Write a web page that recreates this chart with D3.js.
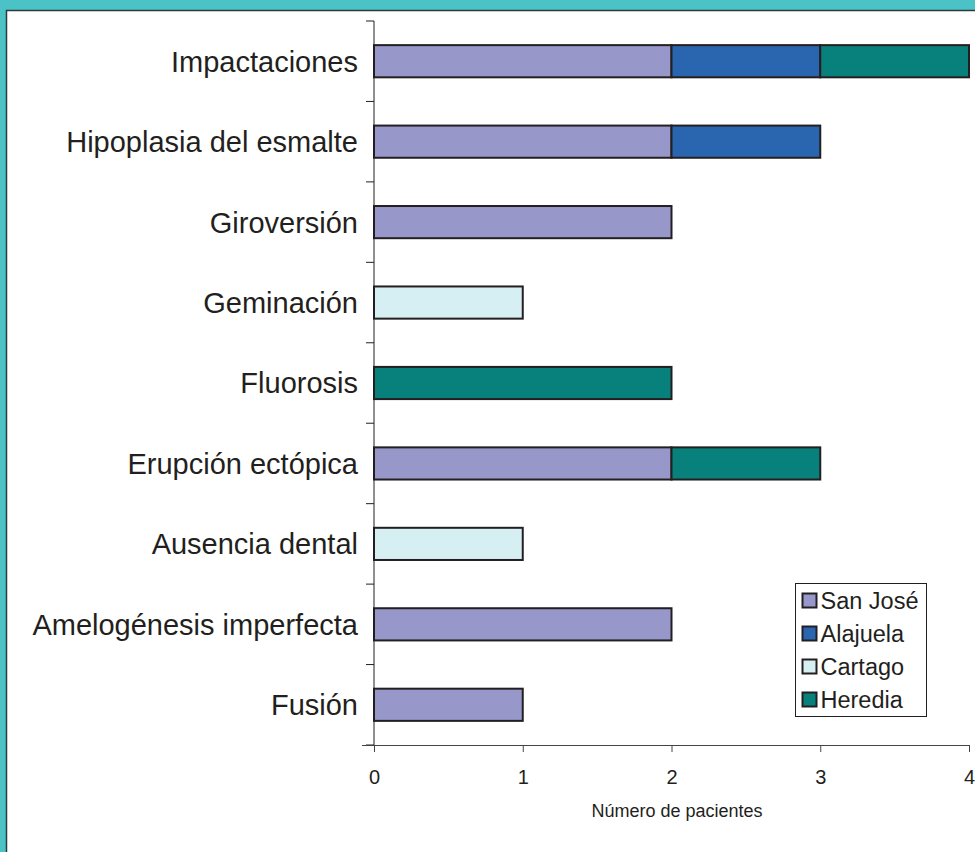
<!DOCTYPE html>
<html>
<head>
<meta charset="utf-8">
<script src="https://cdn.jsdelivr.net/npm/d3@7"></script>
<style>
  html, body { margin: 0; padding: 0; background: #4BC3C6; }
  svg { display: block; }
</style>
</head>
<body>
<svg id="chart" width="975" height="852"></svg>
<script>
// Anomalías dentales por provincia
const categories = [
  "Impactaciones",
  "Hipoplasia del esmalte",
  "Giroversión",
  "Geminación",
  "Fluorosis",
  "Erupción ectópica",
  "Ausencia dental",
  "Amelogénesis imperfecta",
  "Fusión"
];
const seriesNames = ["San José", "Alajuela", "Cartago", "Heredia"];
const sanJose  = [2, 2, 2, 0, 0, 2, 0, 2, 1];
const alajuela = [1, 1, 0, 0, 0, 0, 0, 0, 0];
const cartago  = [0, 0, 0, 1, 0, 0, 1, 0, 0];
const heredia  = [1, 0, 0, 0, 2, 1, 0, 0, 0];
const xTicks = [0, 1, 2, 3, 4];
const xTitle = "Número de pacientes";

const colors = ["#9797CA", "#2A66B0", "#D6EFF3", "#08807C"];

const rows = categories.map((c, i) => ({
  cat: c,
  "San José": sanJose[i],
  "Alajuela": alajuela[i],
  "Cartago": cartago[i],
  "Heredia": heredia[i]
}));

const svg = d3.select("#chart");
const font = "Liberation Sans, Arial, sans-serif";

// white panel inside the teal frame
svg.append("rect")
  .attr("x", 6.5).attr("y", 10.5)
  .attr("width", 975).attr("height", 852)
  .attr("fill", "#fff")
  .attr("stroke", "#2b3a3c").attr("stroke-width", 1.5);

const plotLeft = 374, plotRight = 969, plotTop = 21, plotBottom = 745;

const x = d3.scaleLinear().domain([0, 4]).range([plotLeft, plotRight]);
const y = d3.scaleBand().domain(categories).range([plotTop, plotBottom]).paddingInner(0.6).paddingOuter(0.3);

const stack = d3.stack().keys(seriesNames)(rows);

const g = svg.append("g");
g.selectAll("g.series")
  .data(stack)
  .join("g")
  .attr("class", "series")
  .attr("fill", (d, i) => colors[i])
  .selectAll("rect")
  .data(d => d.filter(s => s[1] - s[0] > 0))
  .join("rect")
  .attr("x", d => x(d[0]))
  .attr("width", d => x(d[1]) - x(d[0]))
  .attr("y", d => y(d.data.cat))
  .attr("height", y.bandwidth())
  .attr("stroke", "#231f20")
  .attr("stroke-width", 2);

// y axis line with ticks at category boundaries
const yAxisG = svg.append("g");
yAxisG.append("line")
  .attr("x1", plotLeft).attr("x2", plotLeft)
  .attr("y1", plotTop).attr("y2", plotBottom)
  .attr("stroke", "#231f20").attr("stroke-width", 1);
const step = (plotBottom - plotTop) / categories.length;
d3.range(categories.length + 1).forEach(i => {
  yAxisG.append("line")
    .attr("x1", plotLeft - 8).attr("x2", plotLeft)
    .attr("y1", plotTop + i * step).attr("y2", plotTop + i * step)
    .attr("stroke", "#231f20").attr("stroke-width", 1);
});
yAxisG.selectAll("text.cat")
  .data(categories)
  .join("text")
  .attr("class", "cat")
  .attr("x", plotLeft - 16)
  .attr("y", d => y(d) + y.bandwidth() / 2)
  .attr("dy", "0.36em")
  .attr("text-anchor", "end")
  .attr("font-family", font)
  .attr("font-size", 29)
  .attr("fill", "#231f20")
  .text(d => d);

// x axis
const xAxis = d3.axisBottom(x).tickValues(xTicks).tickSize(7).tickPadding(18).tickFormat(d3.format("d"));
const xg = svg.append("g")
  .attr("transform", `translate(0,${plotBottom})`)
  .call(xAxis);
xg.select(".domain").attr("d", `M${plotLeft - 12},0.5H${plotRight}`).attr("stroke", "#444");
xg.selectAll(".tick line").attr("stroke", "#444");
xg.selectAll(".tick text")
  .attr("font-family", font)
  .attr("font-size", 20)
  .attr("fill", "#231f20");

svg.append("text")
  .attr("x", 677)
  .attr("y", 817)
  .attr("text-anchor", "middle")
  .attr("font-family", font)
  .attr("font-size", 18)
  .attr("fill", "#231f20")
  .text(xTitle);

// legend
const lg = svg.append("g").attr("transform", "translate(795.5,583.5)");
lg.append("rect")
  .attr("width", 131).attr("height", 133)
  .attr("fill", "#fff").attr("stroke", "#231f20").attr("stroke-width", 1);
seriesNames.forEach((name, i) => {
  const cy = 17 + i * 33;
  lg.append("rect")
    .attr("x", 7).attr("y", cy - 7)
    .attr("width", 14).attr("height", 14)
    .attr("fill", colors[i]).attr("stroke", "#231f20").attr("stroke-width", 2);
  lg.append("text")
    .attr("x", 25).attr("y", cy)
    .attr("dy", "0.36em")
    .attr("font-family", font)
    .attr("font-size", 23.5)
    .attr("fill", "#231f20")
    .text(name);
});
</script>
</body>
</html>
